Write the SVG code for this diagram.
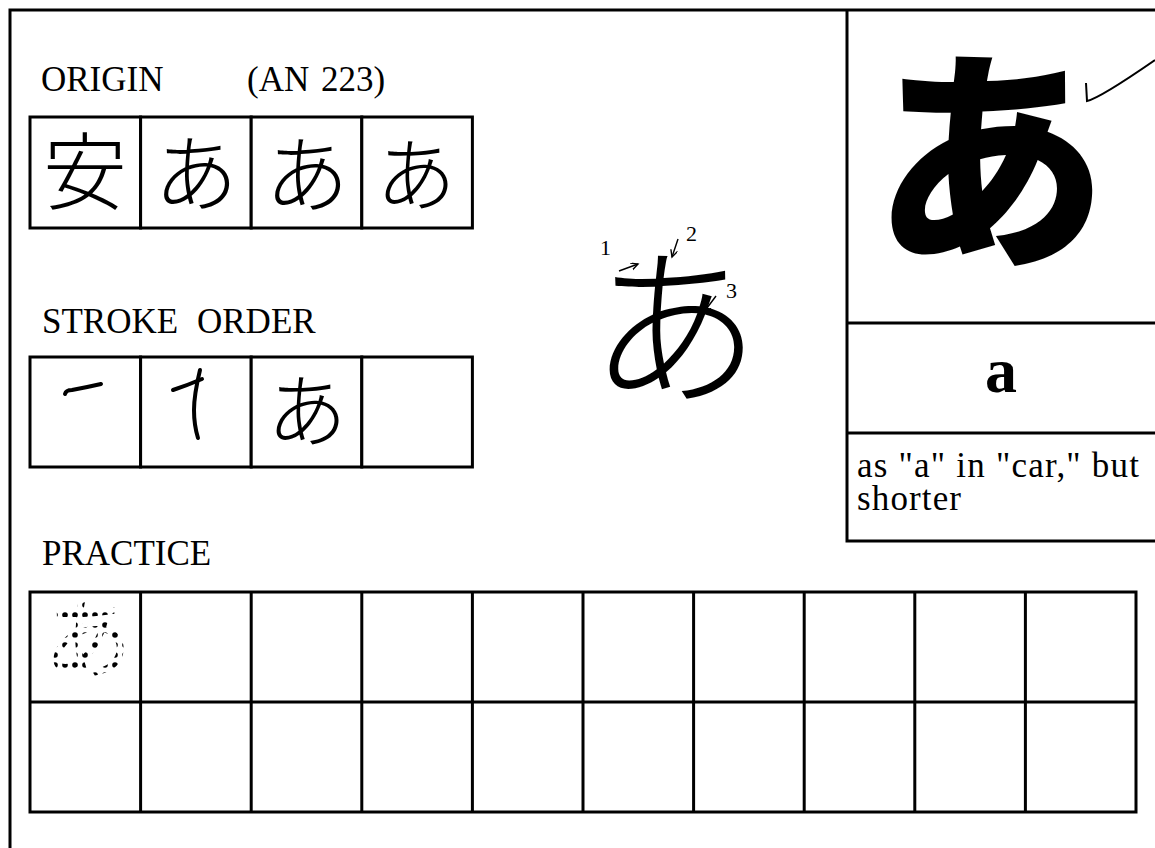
<svg xmlns="http://www.w3.org/2000/svg" width="1155" height="848" viewBox="0 0 1155 848">
<style>
.ln{fill:none;stroke:#000;stroke-width:3}
.cell{fill:#fff;stroke:#000;stroke-width:3}
.lbl{font-family:"Liberation Serif","Times New Roman",serif;font-size:35px;fill:#000}
.num{font-family:"Liberation Serif","Times New Roman",serif;font-size:22px;fill:#000}
.kana{font-family:"Noto Sans CJK JP","Noto Sans CJK SC",sans-serif;fill:#000;text-anchor:middle}
.stk{fill:none;stroke:#000;stroke-width:4;stroke-linecap:round;stroke-linejoin:round}
.arr{fill:none;stroke:#000;stroke-width:1.4}
</style>
<defs>
<marker id="ah" markerWidth="9" markerHeight="9" refX="7" refY="3.5" orient="auto" markerUnits="userSpaceOnUse">
<path d="M0,0 L7,3.5 L0,7" fill="none" stroke="#000" stroke-width="1.4"/>
</marker>
<pattern id="dots" width="10" height="10" patternUnits="userSpaceOnUse">
<circle cx="5" cy="5" r="2.8" fill="#000"/>
</pattern>
</defs>
<rect width="1155" height="848" fill="#fff"/>

<g id="frame">
<path class="ln" d="M10,848 L10,10 L1155,10"/>
</g>

<g id="origin">
<text class="lbl" x="41" y="91">ORIGIN</text>
<text class="lbl" x="247" y="91" font-size="30">(AN</text>
<text class="lbl" x="321" y="91" font-size="31">223)</text>
<rect class="cell" x="30" y="117" width="110.6" height="111"/>
<rect class="cell" x="140.6" y="117" width="110.6" height="111"/>
<rect class="cell" x="251.2" y="117" width="110.6" height="111"/>
<rect class="cell" x="361.8" y="117" width="110.6" height="111"/>
<text class="kana" x="85" y="203" font-size="84" font-weight="300">安</text>
<text class="kana" x="196" y="205" font-size="84" font-weight="300">あ</text>
<text class="kana" x="307" y="206" font-size="84" font-weight="300">あ</text>
<text class="kana" x="416" y="204" font-size="80" font-weight="300">あ</text>
</g>

<g id="stroke-order">
<text class="lbl" x="42" y="333" font-size="36.5">STROKE</text>
<text class="lbl" x="197" y="333" font-size="36.5">ORDER</text>
<rect class="cell" x="30" y="357" width="110.6" height="110"/>
<rect class="cell" x="140.6" y="357" width="110.6" height="110"/>
<rect class="cell" x="251.2" y="357" width="110.6" height="110"/>
<rect class="cell" x="361.8" y="357" width="110.6" height="110"/>
<path class="stk" d="M65,394 Q66,390 72,390 Q88,387 101,384"/>
<path class="stk" d="M173,390 Q188,385 202,379"/>
<path class="stk" d="M200,370 Q194,395 194,410 Q194,425 198,438"/>
<text class="kana" x="307" y="440" font-size="80" font-weight="300">あ</text>
</g>

<g id="center-diagram">
<text class="kana" x="675" y="391" font-size="172" font-weight="300">あ</text>
<text class="num" x="600" y="255">1</text>
<text class="num" x="686" y="241">2</text>
<text class="num" x="726" y="298">3</text>
</g>

<g id="connectors">
<path class="arr" d="M619,271 L638,264" marker-end="url(#ah)"/>
<path class="arr" d="M678,239 L672,257" marker-end="url(#ah)"/>
<path class="arr" d="M716,296 L704,312" marker-end="url(#ah)"/>
</g>

<g id="kana-panel">
<path class="ln" d="M847,10 L847,541 L1155,541 M847,323 L1155,323 M847,433 L1155,433"/>
<text class="kana" x="990" y="249" font-size="235" font-weight="900">あ</text>
<path d="M1086,83 L1087,101 Q1100,98 1155,60" fill="none" stroke="#000" stroke-width="2"/>
</g>

<g id="romaji">
<text x="1001" y="392" font-family="Liberation Serif,'Times New Roman',serif" font-size="64" font-weight="bold" text-anchor="middle">a</text>
</g>

<g id="description">
<text class="lbl" x="857" y="477" font-size="36" textLength="282" lengthAdjust="spacing">as "a" in "car," but</text>
<text class="lbl" x="857" y="510" font-size="36" textLength="104" lengthAdjust="spacing">shorter</text>
</g>

<g id="practice">
<text class="lbl" x="42" y="565" font-size="37">PRACTICE</text>
<path class="ln" d="M30,592 H1136 V812 H30 Z M30,702 H1136 M140.6,592 V812 M251.2,592 V812 M361.8,592 V812 M472.4,592 V812 M583,592 V812 M693.6,592 V812 M804.2,592 V812 M914.8,592 V812 M1025.4,592 V812"/>
<text class="kana" x="88" y="670" font-size="88" font-weight="400" style="fill:url(#dots)">あ</text>
</g>
</svg>
